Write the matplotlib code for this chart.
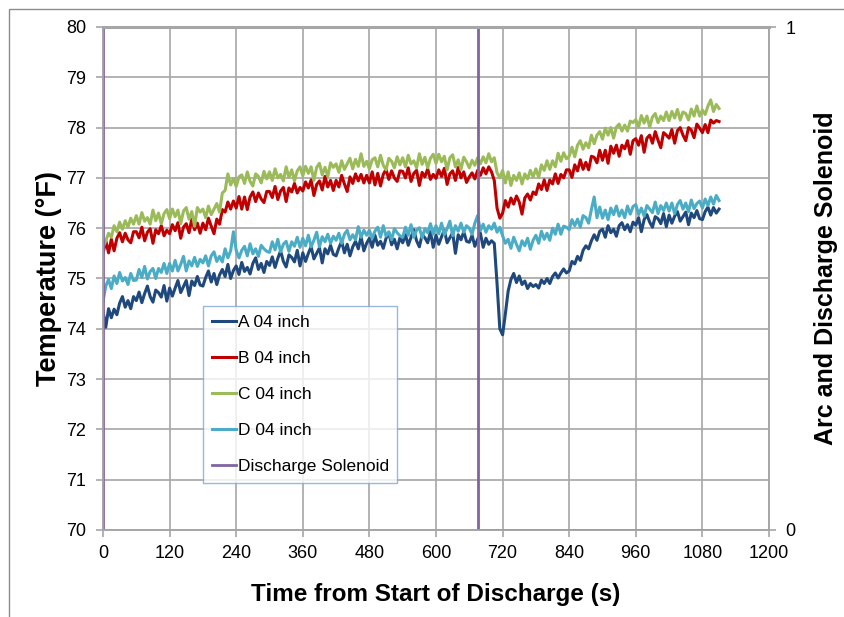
import numpy as np
import matplotlib.pyplot as plt
from matplotlib.patches import Rectangle

# Data (5 s sampling, degF)
time_s = np.arange(0, 1111, 5)

temp_a = [
    74.35, 74.03, 74.40, 74.22, 74.39, 74.28, 74.51, 74.64, 74.43, 74.56, 74.40, 74.64,
    74.56, 74.73, 74.52, 74.70, 74.85, 74.64, 74.53, 74.77, 74.72, 74.63, 74.86, 74.55,
    74.81, 74.65, 74.81, 74.96, 74.72, 74.84, 74.96, 74.66, 74.95, 74.86, 75.04, 74.87,
    74.85, 75.02, 75.15, 74.93, 75.10, 74.88, 75.07, 75.18, 75.04, 75.28, 75.00, 75.16,
    75.25, 75.08, 75.32, 75.14, 75.22, 75.09, 75.30, 75.41, 75.18, 75.30, 75.12, 75.34,
    75.26, 75.43, 75.22, 75.40, 75.55, 75.34, 75.23, 75.47, 75.42, 75.33, 75.56, 75.25,
    75.51, 75.34, 75.50, 75.63, 75.39, 75.50, 75.61, 75.31, 75.59, 75.49, 75.66, 75.48,
    75.45, 75.61, 75.74, 75.51, 75.68, 75.45, 75.63, 75.74, 75.59, 75.83, 75.55, 75.70,
    75.80, 75.62, 75.86, 75.66, 75.74, 75.60, 75.80, 75.91, 75.67, 75.78, 75.59, 75.81,
    75.71, 75.87, 75.66, 75.82, 75.97, 75.75, 75.63, 75.87, 75.81, 75.71, 75.93, 75.62,
    75.86, 75.68, 75.83, 75.96, 75.71, 75.81, 75.91, 75.50, 75.87, 75.77, 75.93, 75.74,
    75.72, 75.86, 75.64, 75.78, 75.90, 75.62, 75.80, 75.68, 75.75, 75.70, 74.90, 74.00,
    73.88, 74.30, 74.75, 74.98, 75.10, 74.92, 75.05, 74.88, 74.95, 74.80, 74.90, 74.84,
    74.88, 74.81, 74.97, 74.90, 75.00, 74.90, 75.04, 75.11, 75.01, 75.11, 75.19, 75.11,
    75.15, 75.34, 75.29, 75.44, 75.36, 75.56, 75.65, 75.59, 75.75, 75.87, 75.76, 75.94,
    75.98, 75.82, 76.05, 75.91, 75.98, 75.84, 76.05, 76.11, 75.97, 76.07, 75.93, 76.12,
    76.06, 76.21, 75.93, 76.17, 76.27, 76.12, 76.02, 76.23, 76.19, 76.09, 76.29, 76.03,
    76.26, 76.10, 76.24, 76.33, 76.14, 76.23, 76.32, 76.07, 76.30, 76.21, 76.35, 76.19,
    76.17, 76.33, 76.42, 76.26, 76.41, 76.30, 76.38,
]

temp_b = [
    75.50, 75.75, 75.51, 75.78, 75.55, 75.80, 75.91, 75.73, 75.90, 75.77, 75.71, 75.93,
    75.93, 75.81, 76.02, 75.75, 75.92, 75.99, 75.70, 75.97, 75.89, 76.05, 75.85, 75.96,
    75.89, 76.07, 75.95, 76.11, 75.80, 76.02, 76.09, 75.91, 76.18, 75.97, 76.10, 75.90,
    76.10, 75.97, 76.20, 76.04, 75.89, 76.18, 76.08, 76.37, 76.32, 76.52, 76.38, 76.54,
    76.40, 76.63, 76.38, 76.62, 76.37, 76.62, 76.72, 76.53, 76.70, 76.58, 76.51, 76.73,
    76.73, 76.61, 76.83, 76.57, 76.74, 76.81, 76.53, 76.80, 76.72, 76.89, 76.70, 76.81,
    76.74, 76.92, 76.80, 76.96, 76.65, 76.87, 76.94, 76.76, 77.03, 76.82, 76.95, 76.75,
    76.95, 76.82, 77.05, 76.88, 76.73, 77.02, 76.89, 77.08, 76.94, 77.07, 76.90, 77.05,
    76.90, 77.12, 76.86, 77.09, 76.84, 77.07, 77.17, 76.97, 77.14, 77.00, 76.93, 77.14,
    77.13, 77.00, 77.20, 76.93, 77.09, 77.15, 76.85, 77.11, 77.02, 77.18, 76.97, 77.07,
    76.99, 77.16, 77.03, 77.19, 76.87, 77.08, 77.14, 76.95, 77.21, 77.00, 77.12, 76.91,
    77.02, 77.10, 76.98, 77.15, 77.05, 77.20, 77.08, 77.22, 77.12, 76.95, 76.40, 76.20,
    76.30, 76.55, 76.42, 76.60, 76.48, 76.64, 76.52, 76.28, 76.60, 76.68, 76.56, 76.72,
    76.67, 76.88, 76.77, 76.96, 76.75, 76.96, 76.88, 77.08, 76.89, 77.07, 77.00, 77.16,
    77.16, 77.01, 77.26, 77.14, 77.36, 77.17, 77.31, 77.16, 77.43, 77.41, 77.30, 77.55,
    77.35, 77.55, 77.29, 77.63, 77.49, 77.65, 77.43, 77.65, 77.58, 77.74, 77.47, 77.74,
    77.78, 77.65, 77.84, 77.51, 77.79, 77.85, 77.69, 77.92, 77.75, 77.60, 77.90, 77.85,
    77.79, 77.96, 77.69, 77.94, 78.00, 77.85, 77.74, 78.00, 77.95, 77.80, 78.07, 77.99,
    77.90, 78.06, 77.90, 78.15, 78.09, 78.14, 78.12,
]

temp_c = [
    75.62, 75.75, 75.90, 75.82, 76.05, 75.93, 76.12, 75.98, 76.15, 76.02, 76.20, 76.08,
    76.25, 76.08, 76.31, 76.14, 76.21, 76.08, 76.36, 76.15, 76.30, 76.09, 76.29, 76.37,
    76.19, 76.38, 76.23, 76.36, 76.09, 76.34, 76.41, 76.18, 76.33, 76.04, 76.41, 76.32,
    76.38, 76.21, 76.44, 76.27, 76.38, 76.49, 76.32, 76.70, 76.75, 77.08, 76.86, 76.99,
    76.83, 77.02, 77.06, 76.89, 77.12, 76.93, 76.84, 77.08, 77.03, 76.90, 77.13, 76.98,
    77.12, 76.95, 77.18, 77.00, 77.07, 76.94, 77.22, 77.01, 77.16, 76.94, 77.14, 77.22,
    77.04, 77.23, 77.09, 77.22, 76.95, 77.21, 77.29, 77.06, 77.21, 77.03, 77.30, 77.21,
    77.28, 77.11, 77.34, 77.17, 77.28, 77.39, 77.18, 77.37, 77.23, 77.48, 77.23, 77.33,
    77.18, 77.36, 77.40, 77.22, 77.45, 77.25, 77.16, 77.39, 77.33, 77.20, 77.42, 77.26,
    77.40, 77.22, 77.45, 77.28, 77.34, 77.20, 77.48, 77.27, 77.41, 77.20, 77.39, 77.47,
    77.29, 77.47, 77.32, 77.43, 77.16, 77.40, 77.46, 77.22, 77.36, 77.17, 77.41, 77.32,
    77.20, 77.35, 77.25, 77.40, 77.28, 77.42, 77.30, 77.48, 77.32, 77.40, 77.10, 77.00,
    77.15, 76.90, 77.12, 76.85, 77.05, 76.95, 77.10, 76.88, 77.08, 76.98, 77.15, 77.02,
    77.18, 77.01, 77.26, 77.15, 77.34, 77.17, 77.34, 77.22, 77.49, 77.33, 77.50, 77.38,
    77.43, 77.61, 77.42, 77.65, 77.74, 77.57, 77.70, 77.60, 77.85, 77.68, 77.85, 77.92,
    77.77, 77.99, 77.85, 78.00, 77.79, 78.01, 78.07, 77.93, 78.05, 77.93, 78.13, 78.10,
    78.16, 78.01, 78.24, 78.09, 78.23, 78.01, 78.21, 78.28, 78.10, 78.23, 78.14, 78.31,
    78.14, 78.32, 78.19, 78.36, 78.15, 78.31, 78.28, 78.15, 78.37, 78.23, 78.43, 78.23,
    78.35, 78.26, 78.43, 78.55, 78.32, 78.46, 78.38,
]

temp_d = [
    74.55, 74.85, 74.98, 74.80, 75.05, 74.90, 75.12, 74.95, 75.02, 74.88, 75.10, 74.96,
    74.97, 75.18, 75.02, 75.24, 74.99, 75.14, 75.20, 75.00, 75.20, 75.12, 75.30, 75.10,
    75.30, 75.15, 75.36, 75.15, 75.28, 75.44, 75.15, 75.35, 75.25, 75.42, 75.24, 75.38,
    75.31, 75.45, 75.25, 75.45, 75.53, 75.34, 75.44, 75.33, 75.59, 75.41, 75.55, 75.93,
    75.56, 75.41, 75.56, 75.64, 75.45, 75.69, 75.49, 75.59, 75.44, 75.66, 75.59, 75.54,
    75.52, 75.73, 75.57, 75.78, 75.53, 75.68, 75.74, 75.54, 75.73, 75.64, 75.82, 75.62,
    75.80, 75.65, 75.86, 75.63, 75.76, 75.92, 75.63, 75.83, 75.73, 75.88, 75.70, 75.84,
    75.76, 75.90, 75.70, 75.88, 75.96, 75.77, 75.87, 75.77, 76.03, 75.82, 75.96, 75.86,
    75.96, 75.80, 75.94, 76.02, 75.82, 76.05, 75.84, 75.93, 75.77, 75.99, 75.91, 75.85,
    75.82, 76.02, 75.86, 76.07, 75.82, 75.96, 76.01, 75.81, 75.99, 75.91, 76.09, 75.88,
    76.05, 75.89, 76.10, 75.87, 75.99, 76.14, 75.85, 76.05, 75.94, 76.10, 75.92, 76.05,
    76.00, 75.88, 76.10, 76.25, 75.95, 76.08, 75.92, 76.05, 75.98, 76.10, 75.92, 76.02,
    75.85, 75.70, 75.78, 75.60, 75.82, 75.68, 75.55, 75.75, 75.65, 75.80, 75.58, 75.76,
    75.86, 75.70, 75.94, 75.78, 75.90, 75.76, 76.00, 75.88, 76.08, 75.88, 76.04, 76.02,
    75.97, 76.17, 76.05, 76.18, 76.02, 76.25, 76.21, 76.10, 76.37, 76.62, 76.21, 76.42,
    76.20, 76.36, 76.17, 76.40, 76.27, 76.44, 76.24, 76.36, 76.21, 76.44, 76.28, 76.43,
    76.47, 76.27, 76.40, 76.24, 76.45, 76.38, 76.31, 76.52, 76.29, 76.45, 76.35, 76.50,
    76.34, 76.50, 76.29, 76.47, 76.55, 76.38, 76.50, 76.33, 76.56, 76.39, 76.49, 76.54,
    76.40, 76.58, 76.45, 76.62, 76.48, 76.65, 76.55,
]

# discharge solenoid state (on from 0 s, off at ~676 s)
solenoid_t = [0, 0, 676, 676, 1110]
solenoid_v = [0, 1, 1, 0, 0]

labels = ['A 04 inch', 'B 04 inch', 'C 04 inch', 'D 04 inch', 'Discharge Solenoid']
colors = ['#1f497d', '#c00000', '#9bbb59', '#4bacc6', '#8064a2']

plt.rcParams['font.family'] = ['Liberation Sans', 'DejaVu Sans']

GRID = '#a6a6a6'

fig = plt.figure(figsize=(8.44, 6.17), dpi=100)
ax = fig.add_axes([103 / 844, 1 - 530 / 617, 666 / 844, 503 / 617])
ax2 = ax.twinx()

handles = []
for vals, lab, col in zip([temp_a, temp_b, temp_c, temp_d], labels[:4], colors[:4]):
    h, = ax.plot(time_s, vals, color=col, lw=2.2, label=lab, zorder=3)
    handles.append(h)

hs, = ax2.plot(solenoid_t, solenoid_v, color=colors[4], lw=2.0, label=labels[4], zorder=2)
handles.append(hs)

ax.set_xlim(0, 1200)
ax.set_ylim(70, 80)
ax2.set_ylim(0, 1)
ax.set_xticks(np.arange(0, 1201, 120))
ax.set_yticks(np.arange(70, 81, 1))
ax2.set_yticks([0, 1])

ax.grid(True, color=GRID, lw=1.2)
ax.set_axisbelow(True)
for a in (ax, ax2):
    for s in a.spines.values():
        s.set_color(GRID)
        s.set_linewidth(1.2)
# top border hides the solenoid "on" level like in the original
ax2.spines['top'].set_linewidth(2.2)
ax2.spines['top'].set_zorder(5)

ax.tick_params(axis='both', direction='out', length=5, width=1.2, color=GRID,
               labelsize=13, labelcolor='black')
ax.tick_params(axis='x', pad=6)
ax.tick_params(axis='y', pad=7)
ax2.tick_params(axis='y', direction='out', length=5, width=1.2, color=GRID,
                labelsize=13, labelcolor='black', pad=7)

ax.set_xlabel('Time from Start of Discharge (s)', fontsize=17.5, fontweight='bold', labelpad=15)
ax.set_ylabel('Temperature (°F)', fontsize=19.5, fontweight='bold', labelpad=3)
ax2.set_ylabel('Arc and Discharge Solenoid', fontsize=18, fontweight='bold', labelpad=13)

leg = ax2.legend(handles, labels, loc='upper left', bbox_to_anchor=(0.150, 0.445),
                 fontsize=12.5, frameon=True, fancybox=False, handlelength=1.4,
                 handletextpad=0.1, labelspacing=1.2, borderpad=0.5, borderaxespad=0)
leg.get_frame().set_edgecolor('#7ea6d8')
leg.get_frame().set_linewidth(1.0)
leg.set_zorder(6)

# outer chart border
fig.add_artist(Rectangle((8.5 / 844, -0.01), 1.0, 1 - 8.5 / 617 + 0.01,
                         transform=fig.transFigure, fill=False,
                         edgecolor='#8c8c8c', lw=1.0))

fig.savefig('out.png', dpi=100)
